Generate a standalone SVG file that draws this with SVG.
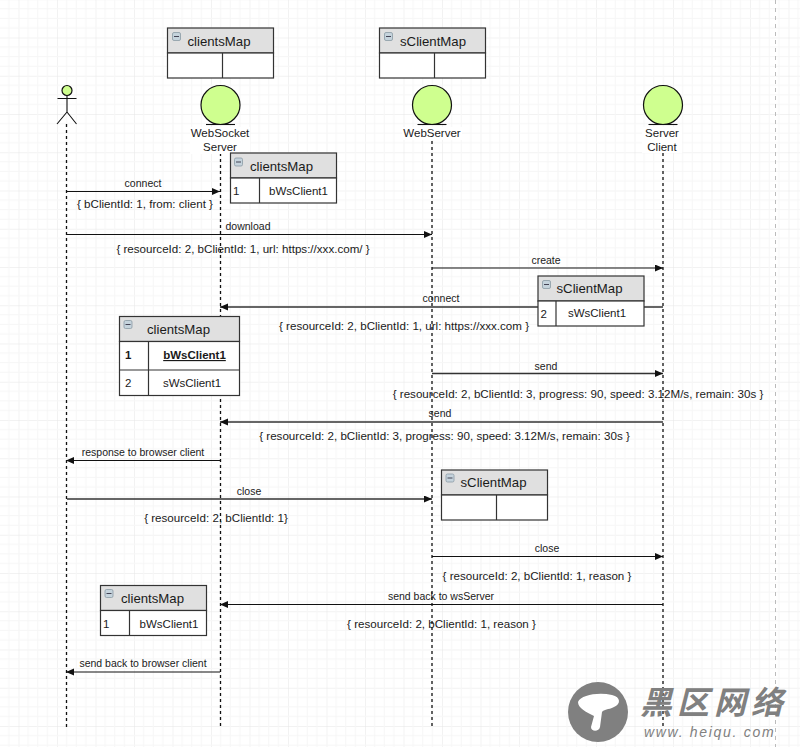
<svg xmlns="http://www.w3.org/2000/svg" width="800" height="747" viewBox="0 0 800 747">
<style>
text{font-family:"Liberation Sans",Arial,sans-serif;fill:#1a1a1a}
.t{font-size:10.5px;text-anchor:middle}
.m{font-size:11.6px;text-anchor:middle}
.n{font-size:11.5px;text-anchor:middle}
.h{font-size:13.2px;text-anchor:middle}
.c{font-size:11.5px;text-anchor:middle}
.l{stroke:#111;stroke-width:1.3;stroke-dasharray:3 3;fill:none}
.a{stroke:#111;stroke-width:1.2;fill:none}
.k{stroke:#333;stroke-width:1.6;fill:none}
.b{fill:#e0e0e0;stroke:#333;stroke-width:1.2}
.w{fill:#fff;stroke:#333;stroke-width:1.2}
.d{stroke:#333;stroke-width:1.2;fill:none}
.s{fill:#cfff8f;stroke:#111;stroke-width:1.2}
.i{fill:#c5d3dc;stroke:#8a9aa5;stroke-width:.8}
.j{stroke:#445;stroke-width:1}
</style>
<defs>
<pattern id="g" width="38.5" height="38.25" patternUnits="userSpaceOnUse" x="18.5" y="37.5">
<path d="M0 0V38.25M0 0H38.5" stroke="#e6e6e6" stroke-width="1" fill="none"/>
<path d="M9.6 0V38.25M19.2 0V38.25M28.9 0V38.25M0 9.6H38.5M0 19.1H38.5M0 28.7H38.5" stroke="#f6f6f6" stroke-width="1" fill="none"/>
</pattern>
<marker id="e" markerWidth="9" markerHeight="8" refX="8" refY="3.5" orient="auto" markerUnits="userSpaceOnUse"><path d="M0 0L8 3.5L0 7Z" fill="#111"/></marker>
<g id="mi"><rect x="0" y="0" width="8" height="8" rx="1.5" class="i"/><path d="M1.5 4H6.5" class="j"/></g>
</defs>
<rect width="800" height="747" fill="#fff"/>
<rect width="800" height="747" fill="url(#g)"/>
<path d="M775.500 0V747" stroke="#bbb" stroke-width="1" stroke-dasharray="4 4" fill="none"/>

<g id="connectors">
<path class="l" d="M66.500 124V727"/>
<path class="l" d="M220.500 153V727"/>
<path class="l" d="M432 141V727"/>
<path class="l" d="M663 153V727"/>
<path class="a" marker-end="url(#e)" d="M67 191.500H220"/>
<path class="a" marker-end="url(#e)" d="M67 234.500H432"/>
<path class="a" marker-end="url(#e)" d="M432 268H663"/>
<path class="k" marker-end="url(#e)" d="M663 307H220"/>
<path class="k" marker-end="url(#e)" d="M432 373.500H663"/>
<path class="k" marker-end="url(#e)" d="M663 422H220"/>
<path class="a" marker-end="url(#e)" d="M220 460.500H66"/>
<path class="k" marker-end="url(#e)" d="M67 499H432"/>
<path class="a" marker-end="url(#e)" d="M432 556.500H663"/>
<path class="a" marker-end="url(#e)" d="M663 604.500H220"/>
<path class="a" marker-end="url(#e)" d="M220 672H66"/>
<text class="t" x="143" y="187">connect</text>
<text class="m" x="145" y="207.500">{ bClientId: 1, from: client }</text>
<text class="t" x="248" y="230">download</text>
<text class="m" x="243" y="252.500">{ resourceId: 2, bClientId: 1, url: https://xxx.com/ }</text>
<text class="t" x="546" y="264">create</text>
<text class="t" x="441" y="302">connect</text>
<text class="m" x="404" y="330">{ resourceId: 2, bClientId: 1, url: https://xxx.com }</text>
<text class="t" x="546" y="370">send</text>
<text class="m" x="578" y="398">{ resourceId: 2, bClientId: 3, progress: 90, speed: 3.12M/s, remain: 30s }</text>
<text class="t" x="440" y="417">send</text>
<text class="m" x="444.500" y="439.500">{ resourceId: 2, bClientId: 3, progress: 90, speed: 3.12M/s, remain: 30s }</text>
<text class="t" x="143" y="456">response to browser client</text>
<text class="t" x="249" y="495">close</text>
<text class="m" x="216" y="522">{ resourceId: 2, bClientId: 1}</text>
<text class="t" x="547" y="552">close</text>
<text class="m" x="537" y="579.500">{ resourceId: 2, bClientId: 1, reason }</text>
<text class="t" x="441" y="600">send back to wsServer</text>
<text class="m" x="441.500" y="627.500">{ resourceId: 2, bClientId: 1, reason }</text>
<text class="t" x="143" y="667">send back to browser client</text>
</g>

<g id="actor">
<circle class="s" cx="67" cy="90.500" r="5"/>
<path d="M67 95.500V112M57.500 98.500H76.500M57 124L67 112L76.500 124" stroke="#111" stroke-width="1.1" fill="none"/>
</g>
<g id="ws-server">
<circle class="s" cx="220.500" cy="105" r="19.500"/>
<path d="M206 124.500H235" stroke="#111" stroke-width="1.1"/>
<rect x="190" y="127" width="60" height="27" fill="#fff"/>
<text class="n" x="220" y="137">WebSocket</text>
<text class="n" x="220" y="151">Server</text>
</g>
<g id="webserver">
<circle class="s" cx="432" cy="105" r="19.500"/>
<path d="M417.500 124.500H446.500" stroke="#111" stroke-width="1.1"/>
<rect x="402" y="127" width="60" height="13" fill="#fff"/>
<text class="n" x="432" y="137">WebServer</text>
</g>
<g id="server-client">
<circle class="s" cx="663" cy="105" r="19.500"/>
<path d="M648.500 124.500H677.500" stroke="#111" stroke-width="1.1"/>
<rect x="642" y="127" width="40" height="26" fill="#fff"/>
<text class="n" x="662" y="137">Server</text>
<text class="n" x="662" y="151">Client</text>
</g>

<g id="map-top-clients">
<rect class="b" x="167.500" y="28" width="106" height="25"/>
<rect class="w" x="167.500" y="53" width="106" height="25"/>
<path class="d" d="M222.500 53V78"/>
<use href="#mi" x="172.500" y="32.500"/>
<text class="h" x="219" y="45.500">clientsMap</text>
</g>
<g id="map-top-sclient">
<rect class="b" x="379.500" y="28" width="106" height="25"/>
<rect class="w" x="379.500" y="53" width="106" height="25"/>
<path class="d" d="M434.500 53V78"/>
<use href="#mi" x="384.500" y="32.500"/>
<text class="h" x="433" y="45.500">sClientMap</text>
</g>
<g id="map-clients-1">
<rect class="b" x="230.500" y="153" width="106" height="25"/>
<rect class="w" x="230.500" y="178" width="106" height="25"/>
<path class="d" d="M259.500 178V203"/>
<use href="#mi" x="234.500" y="158"/>
<text class="h" x="281.500" y="170.500">clientsMap</text>
<text x="233" y="195" font-size="11.500">1</text>
<text class="c" x="298.500" y="195">bWsClient1</text>
</g>
<g id="map-sclient-1">
<rect class="b" x="538" y="276" width="106" height="25"/>
<rect class="w" x="538" y="301" width="106" height="25"/>
<path class="d" d="M556 301V326"/>
<use href="#mi" x="542.500" y="280.500"/>
<text class="h" x="589.500" y="293">sClientMap</text>
<text x="540.500" y="318" font-size="11.500">2</text>
<text class="c" x="597" y="317">sWsClient1</text>
</g>
<g id="map-clients-2">
<rect class="b" x="119.500" y="316.500" width="120" height="25"/>
<rect class="w" x="119.500" y="341.500" width="120" height="54"/>
<path class="d" d="M119.500 370H239.500M148.500 341.500V395.500"/>
<use href="#mi" x="124" y="320.500"/>
<text class="h" x="178.500" y="334">clientsMap</text>
<text x="125" y="359" font-size="11.500" font-weight="bold">1</text>
<text class="c" x="194.500" y="359" font-weight="bold" text-decoration="underline">bWsClient1</text>
<text x="125" y="387" font-size="11.500">2</text>
<text class="c" x="192" y="387">sWsClient1</text>
</g>
<g id="map-sclient-2">
<rect class="b" x="441.500" y="470" width="106" height="25"/>
<rect class="w" x="441.500" y="495" width="106" height="25"/>
<path class="d" d="M496.500 495V520"/>
<use href="#mi" x="446" y="474"/>
<text class="h" x="493.500" y="487">sClientMap</text>
</g>
<g id="map-clients-3">
<rect class="b" x="100.500" y="585.500" width="106" height="25"/>
<rect class="w" x="100.500" y="610.500" width="106" height="25"/>
<path class="d" d="M129.500 610.500V635.500"/>
<use href="#mi" x="105" y="589.500"/>
<text class="h" x="152.500" y="603">clientsMap</text>
<text x="103" y="628" font-size="11.500">1</text>
<text class="c" x="169" y="628">bWsClient1</text>
</g>

<g id="watermark">
<circle cx="598" cy="712" r="30" fill="#808080"/>
<path d="M578 702C581 695 598 692 612 695C621 697 621 704 614 707C608 710 604 709 602 712L600 727C599 732 591 732 591 727L594 716C586 712 578 708 578 702Z" fill="#fff"/>
<text x="640" y="714" font-size="32" font-style="italic" letter-spacing="5" style="font-family:'Noto Sans CJK SC',sans-serif;fill:#808080;font-weight:700">黑区网络</text>
<text x="644" y="736.500" font-size="14" font-style="italic" letter-spacing="1.700" style="fill:#808080">www. heiqu. com</text>
</g>
</svg>
